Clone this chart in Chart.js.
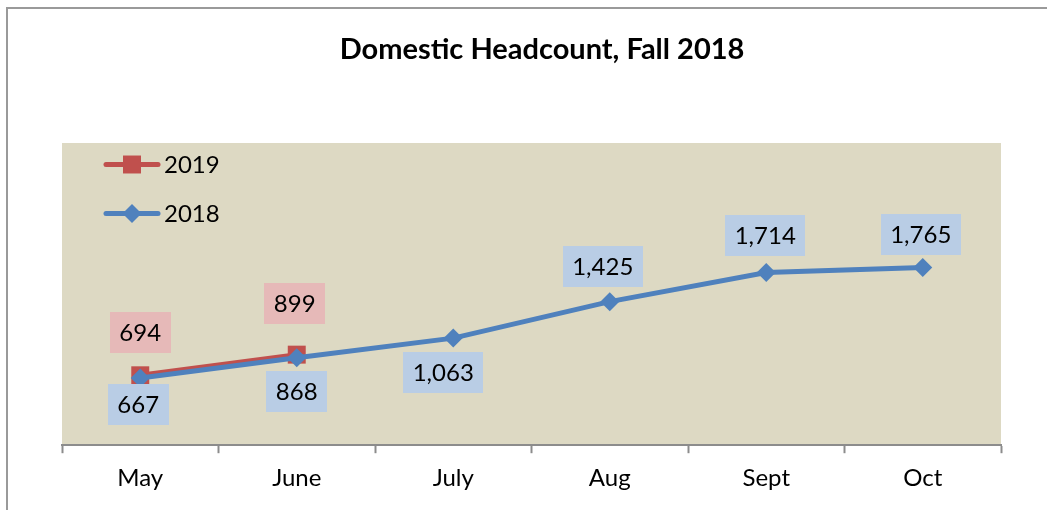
<!DOCTYPE html>
<html>
<head>
<meta charset="utf-8">
<script src="https://cdn.jsdelivr.net/npm/chart.js@4"></script>
<style>
  html, body { margin: 0; padding: 0; background: #ffffff; }
  #wrap { width: 1047px; height: 510px; position: relative; }
</style>
</head>
<body>
<div id="wrap"><canvas id="c" width="1047" height="510"></canvas></div>
<script>
const titleText = 'Domestic Headcount, Fall 2018';
const categories = ['May', 'June', 'July', 'Aug', 'Sept', 'Oct'];
const series2019Name = '2019';
const series2019 = [694, 899];
const series2018Name = '2018';
const series2018 = [667, 868, 1063, 1425, 1714, 1765];

const FONT = 'Lato, "Open Sans", sans-serif';
const RED = '#C0504D';
const BLUE = '#4F81BD';

// label offsets (style): box centre relative to point, px
const labelOffsets = {
  '2019': [[0, -43], [-2, -51]],
  '2018': [[-2, 26], [0, 34], [-10, 34], [-7, -35], [-1, -37], [-2, -33]]
};
const labelBoxColors = { '2019': '#E6B9B8', '2018': '#B9CDE5' };

const decorPlugin = {
  id: 'decor',
  beforeDraw(chart) {
    const { ctx, chartArea: a } = chart;
    ctx.save();
    ctx.fillStyle = '#ffffff';
    ctx.fillRect(0, 0, chart.width, chart.height);
    // outer border
    ctx.strokeStyle = '#9a9a9a';
    ctx.lineWidth = 2;
    ctx.strokeRect(7, 8, chart.width + 20, chart.height + 20);
    // plot background
    ctx.fillStyle = '#DDD9C3';
    ctx.fillRect(a.left, a.top, a.right - a.left, a.bottom - a.top);
    // title
    ctx.fillStyle = '#000000';
    ctx.font = 'bold 29px ' + FONT;
    ctx.textAlign = 'center';
    ctx.textBaseline = 'alphabetic';
    ctx.fillText(titleText, 542, 59);
    ctx.restore();
  },
  afterDatasetsDraw(chart) {
    const { ctx } = chart;
    ctx.save();
    ctx.font = '24px ' + FONT;
    ctx.textAlign = 'center';
    ctx.textBaseline = 'middle';
    chart.data.datasets.forEach((ds, di) => {
      const meta = chart.getDatasetMeta(di);
      const offs = labelOffsets[ds.label];
      meta.data.forEach((pt, i) => {
        const v = ds.data[i];
        if (v == null) return;
        const txt = v.toLocaleString('en-US');
        const w = ctx.measureText(txt).width + 19;
        const h = 41;
        const cx = pt.x + offs[i][0];
        const cy = pt.y + offs[i][1];
        ctx.fillStyle = labelBoxColors[ds.label];
        ctx.fillRect(Math.round(cx - w / 2), Math.round(cy - h / 2), Math.round(w), h);
        ctx.fillStyle = '#000000';
        ctx.fillText(txt, cx, cy + 1);
      });
    });
    // legend
    const legendItems = [
      { label: series2019Name, color: RED, style: 'rect', r: 12.7 },
      { label: series2018Name, color: BLUE, style: 'rectRot', r: 9.5 }
    ];
    legendItems.forEach((it, k) => {
      const y = 164.5 + k * 49;
      ctx.strokeStyle = it.color;
      ctx.lineWidth = 5;
      ctx.lineCap = 'round';
      ctx.beginPath();
      ctx.moveTo(106, y);
      ctx.lineTo(158, y);
      ctx.stroke();
      ctx.fillStyle = it.color;
      Chart.helpers.drawPoint(ctx, { pointStyle: it.style, radius: it.r, rotation: 0, borderWidth: 0 }, 132, y);
      ctx.fillStyle = '#000000';
      ctx.textAlign = 'left';
      ctx.fillText(it.label, 164, y + 1);
    });
    ctx.restore();
  }
};

new Chart(document.getElementById('c'), {
  type: 'line',
  data: {
    labels: categories,
    datasets: [
      {
        label: series2018Name,
        data: series2018,
        borderColor: BLUE,
        backgroundColor: BLUE,
        borderWidth: 5,
        pointStyle: 'rectRot',
        pointRadius: 9.5,
        pointBorderWidth: 0,
        pointBackgroundColor: BLUE,
        tension: 0,
        clip: false
      },
      {
        label: series2019Name,
        data: series2019,
        borderColor: RED,
        backgroundColor: RED,
        borderWidth: 5,
        pointStyle: 'rect',
        pointRadius: 12.7,
        pointBorderWidth: 0,
        pointBackgroundColor: RED,
        tension: 0,
        clip: false
      }
    ]
  },
  options: {
    responsive: false,
    animation: false,
    devicePixelRatio: 1,
    layout: { padding: { left: 62, right: 46, top: 143, bottom: 6 } },
    plugins: {
      legend: { display: false },
      title: { display: false },
      tooltip: { enabled: false }
    },
    scales: {
      y: { display: false, min: 0, max: 3000 },
      x: {
        offset: true,
        grid: {
          offset: true,
          drawOnChartArea: false,
          drawTicks: true,
          tickLength: 8,
          tickWidth: 2,
          tickColor: '#8c8c8c'
        },
        border: { display: true, color: '#8c8c8c', width: 2 },
        ticks: {
          color: '#000000',
          padding: 11,
          font: { family: FONT, size: 24 },
          maxRotation: 0
        }
      }
    }
  },
  plugins: [decorPlugin]
});
</script>
</body>
</html>
